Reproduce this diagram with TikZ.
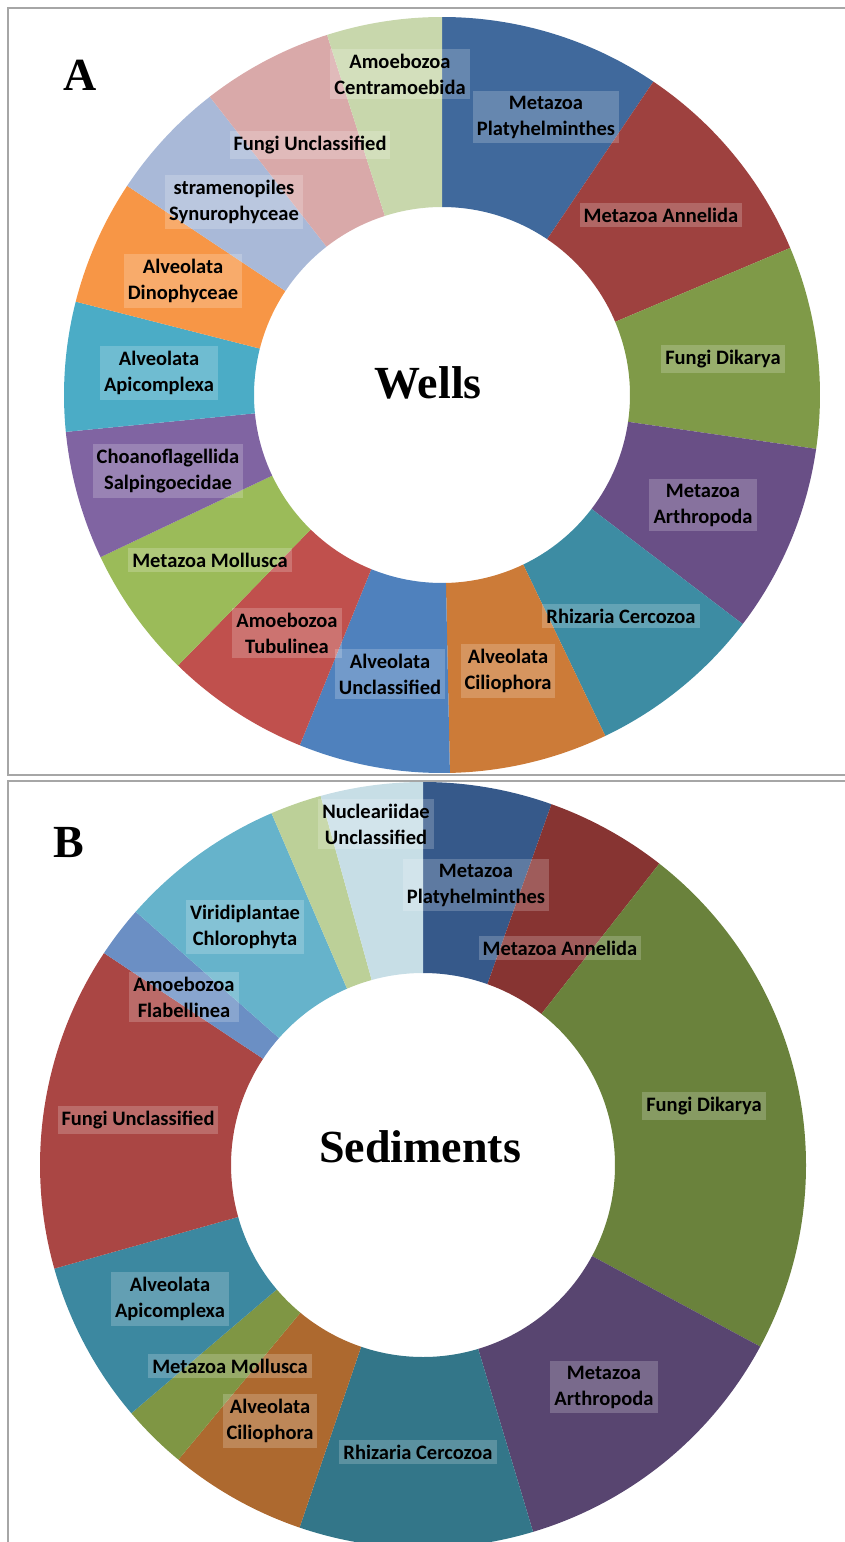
\documentclass[tikz,border=0pt]{standalone}
\usepackage{fontspec}
\usepackage{xcolor}
\usepackage{tikz}
\newfontfamily\labelfont{Carlito}
\newfontfamily\titlefont{Liberation Serif}

\definecolor{platyA}{HTML}{40699C}
\definecolor{annelidaA}{HTML}{9E413F}
\definecolor{dikaryaA}{HTML}{7F9A48}
\definecolor{arthroA}{HTML}{694F86}
\definecolor{cercozoaA}{HTML}{3D8CA3}
\definecolor{cilioA}{HTML}{CC7B38}
\definecolor{alvunA}{HTML}{4F81BD}
\definecolor{tubuA}{HTML}{C0504D}
\definecolor{mollA}{HTML}{9BBB59}
\definecolor{choanoA}{HTML}{8064A2}
\definecolor{apicoA}{HTML}{4BACC6}
\definecolor{dinoA}{HTML}{F79646}
\definecolor{stramA}{HTML}{A9B9D8}
\definecolor{fungiunA}{HTML}{D9A9A9}
\definecolor{centraA}{HTML}{C8D7AC}

\definecolor{platyB}{HTML}{36598A}
\definecolor{annelidaB}{HTML}{873432}
\definecolor{dikaryaB}{HTML}{6A823C}
\definecolor{arthroB}{HTML}{584570}
\definecolor{cercozoaB}{HTML}{337689}
\definecolor{cilioB}{HTML}{AD692F}
\definecolor{mollB}{HTML}{7F9644}
\definecolor{apicoB}{HTML}{3C88A0}
\definecolor{fungiunB}{HTML}{AA4644}
\definecolor{flabB}{HTML}{6B8FC4}
\definecolor{chloroB}{HTML}{66B3CB}
\definecolor{lgreenB}{HTML}{BCD098}
\definecolor{nuclB}{HTML}{C7DEE6}

\tikzset{
    pics/wedge/.style args={#1/#2/#3/#4/#5}{
    code = {
		\fill[#5] ({90-#3}:#2) arc[start angle={90-#3}, end angle={90-#4}, radius=#2]
         -- ({90-#4}:#1) arc[start angle={90-#4}, end angle={90-#3}, radius=#1] -- cycle;
    }},
    lbl/.style={fill=white, fill opacity=0.2, text opacity=1, align=center,
        inner xsep=4pt, inner ysep=5pt, font=\labelfont\bfseries\fontsize{20.5}{26}\selectfont},
    panel/.style={draw=black!35, line width=1.5pt},
    charttitle/.style={font=\titlefont\bfseries\fontsize{46}{50}\selectfont}
}

\begin{document}
\begin{tikzpicture}[x=1pt,y=1pt,yscale=-1]
		\useasboundingbox (0,0) rectangle (844,1542);
		\draw[panel] (8,8) rectangle (870,775);
		\draw[panel] (870,781) -- (8,781) -- (8,1570);

		% wells
		\pic at (442,395) {wedge=188/378/0/34/platyA};
		\pic at (442,395) {wedge=188/378/34/67.1/annelidaA};
		\pic at (442,395) {wedge=188/378/67.1/98.2/dikaryaA};
		\pic at (442,395) {wedge=188/378/98.2/127.3/arthroA};
		\pic at (442,395) {wedge=188/378/127.3/154.4/cercozoaA};
		\pic at (442,395) {wedge=188/378/154.4/178.8/cilioA};
		\pic at (442,395) {wedge=188/378/178.8/202.1/alvunA};
		\pic at (442,395) {wedge=188/378/202.1/224.3/tubuA};
		\pic at (442,395) {wedge=188/378/224.3/244.6/mollA};
		\pic at (442,395) {wedge=188/378/244.6/264.4/choanoA};
		\pic at (442,395) {wedge=188/378/264.4/284.3/apicoA};
		\pic at (442,395) {wedge=188/378/284.3/303.6/dinoA};
		\pic at (442,395) {wedge=188/378/303.6/322.1/stramA};
		\pic at (442,395) {wedge=188/378/322.1/342.3/fungiunA};
		\pic at (442,395) {wedge=188/378/342.3/360/centraA};

		\node[charttitle] (panelA) at (80,75) {A};
		\node[charttitle] (wells) at (428,383) {Wells};

		\node[lbl] (wCentra) at (400,74) {Amoebozoa\\Centramoebida};
		\node[lbl] (wPlaty) at (546,117) {Metazoa\\Platyhelminthes};
		\node[lbl] (wFungiUn) at (310,145) {Fungi Unclassified};
		\node[lbl] (wStram) at (234,202) {stramenopiles\\Synurophyceae};
		\node[lbl] (wAnnelida) at (661,215) {Metazoa Annelida};
		\node[lbl] (wDino) at (183,281) {Alveolata\\Dinophyceae};
		\node[lbl] (wDikarya) at (723,359) {Fungi Dikarya};
		\node[lbl] (wApico) at (159,373) {Alveolata\\Apicomplexa};
		\node[lbl] (wChoano) at (168,471) {Choanoflagellida\\Salpingoecidae};
		\node[lbl] (wArthro) at (703,505) {Metazoa\\Arthropoda};
		\node[lbl] (wMoll) at (210,560) {Metazoa Mollusca};
		\node[lbl] (wCercozoa) at (621,616) {Rhizaria Cercozoa};
		\node[lbl] (wTubu) at (287,633) {Amoebozoa\\Tubulinea};
		\node[lbl] (wAlvUn) at (390,674) {Alveolata\\Unclassified};
		\node[lbl] (wCilio) at (508,671) {Alveolata\\Ciliophora};

		% sediments
		\pic at (423,1165) {wedge=192/383/0/19.6/platyB};
		\pic at (423,1165) {wedge=192/383/19.6/38.1/annelidaB};
		\pic at (423,1165) {wedge=192/383/38.1/118.3/dikaryaB};
		\pic at (423,1165) {wedge=192/383/118.3/163.3/arthroB};
		\pic at (423,1165) {wedge=192/383/163.3/198.8/cercozoaB};
		\pic at (423,1165) {wedge=192/383/198.8/219.7/cilioB};
		\pic at (423,1165) {wedge=192/383/219.7/229.6/mollB};
		\pic at (423,1165) {wedge=192/383/229.6/254.3/apicoB};
		\pic at (423,1165) {wedge=192/383/254.3/303.6/fungiunB};
		\pic at (423,1165) {wedge=192/383/303.6/311.4/flabB};
		\pic at (423,1165) {wedge=192/383/311.4/336.7/chloroB};
		\pic at (423,1165) {wedge=192/383/336.7/344.5/lgreenB};
		\pic at (423,1165) {wedge=192/383/344.5/360/nuclB};

		\node[charttitle] (panelB) at (69,842) {B};
		\node[charttitle] (sediments) at (420,1147) {Sediments};

		\node[lbl] (sNucl) at (376,824) {Nucleariidae\\Unclassified};
		\node[lbl] (sPlaty) at (476,885) {Metazoa\\Platyhelminthes};
		\node[lbl] (sChloro) at (245,927) {Viridiplantae\\Chlorophyta};
		\node[lbl] (sAnnelida) at (560,948) {Metazoa Annelida};
		\node[lbl] (sFlab) at (184,997) {Amoebozoa\\Flabellinea};
		\node[lbl] (sDikarya) at (704,1106) {Fungi Dikarya};
		\node[lbl] (sFungiUn) at (138,1120) {Fungi Unclassified};
		\node[lbl] (sApico) at (170,1299) {Alveolata\\Apicomplexa};
		\node[lbl] (sMoll) at (230,1366) {Metazoa Mollusca};
		\node[lbl] (sArthro) at (604,1387) {Metazoa\\Arthropoda};
		\node[lbl] (sCilio) at (270,1421) {Alveolata\\Ciliophora};
		\node[lbl] (sCercozoa) at (418,1452) {Rhizaria Cercozoa};
\end{tikzpicture}
\end{document}
